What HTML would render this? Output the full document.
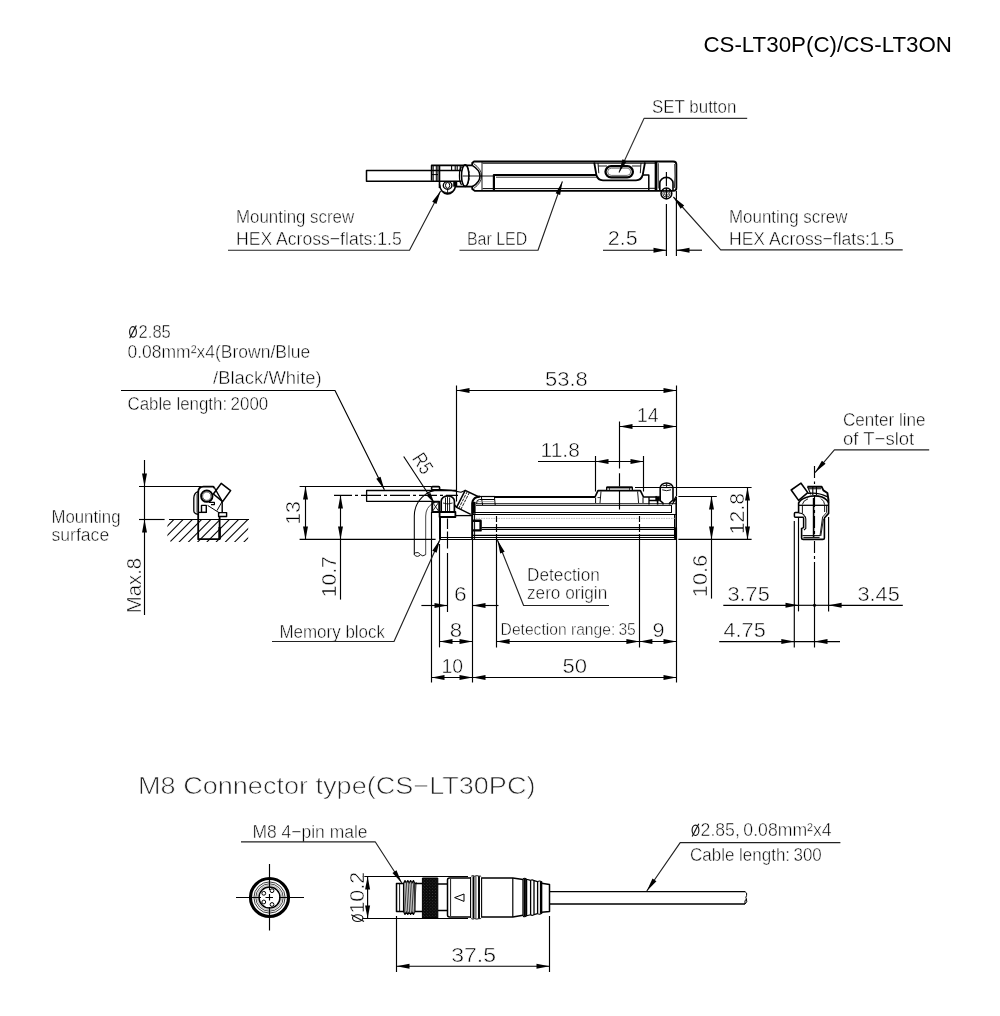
<!DOCTYPE html>
<html><head><meta charset="utf-8"><title>CS-LT30P(C)/CS-LT3ON</title>
<style>
html,body{margin:0;padding:0;background:#fff;}
body{width:1000px;height:1016px;overflow:hidden;font-family:"Liberation Sans",sans-serif;}
svg{display:block;will-change:transform;}
.t{font-family:"Liberation Sans",sans-serif;fill:#000;stroke:#fff;stroke-width:0.5px;paint-order:fill stroke;}
.t2{font-family:"Liberation Sans",sans-serif;fill:#222;stroke:#fff;stroke-width:0.7px;paint-order:fill stroke;}
.ttl{font-family:"Liberation Sans",sans-serif;fill:#000;}
</style></head><body>
<svg width="1000" height="1016" viewBox="0 0 1000 1016" stroke-linecap="butt" stroke-linejoin="round">
<rect x="0" y="0" width="1000" height="1016" fill="#fff" stroke="none"/>
<text class="ttl" x="703.4" y="52.4" font-size="22.5" textLength="248.6" lengthAdjust="spacingAndGlyphs">CS-LT30P(C)/CS-LT3ON</text>
<path d="M461.5,170.4 H366.5 V181.2 H461.5" stroke="#000" stroke-width="1.5" fill="none"/>
<path d="M472.2,165.4 H431.6 V180.8" stroke="#000" stroke-width="1.6" fill="none"/>
<line x1="433.2" y1="165.4" x2="433.2" y2="181" stroke="#000" stroke-width="1"/>
<line x1="436.3" y1="165.4" x2="436.3" y2="181" stroke="#000" stroke-width="1"/>
<line x1="437.9" y1="165.4" x2="437.9" y2="181" stroke="#000" stroke-width="1"/>
<line x1="439.5" y1="165.4" x2="439.5" y2="188" stroke="#000" stroke-width="1.6"/>
<line x1="431.6" y1="174.6" x2="438" y2="174.6" stroke="#000" stroke-width="1"/>
<path d="M451.6,166 V170 M455.2,166 V170 M457.2,166 V170 M460.2,166 V170" stroke="#000" stroke-width="1.1" fill="none"/>
<path d="M439.6,184.5 A8.1,10 0 0 0 455.6,186" stroke="#000" stroke-width="1.6" fill="none"/>
<ellipse cx="447.6" cy="185.4" rx="4.3" ry="3.8" stroke="#000" stroke-width="1.4" fill="none"/>
<ellipse cx="447.6" cy="185.4" rx="2.1" ry="2.9" stroke="#000" stroke-width="1" fill="none"/>
<line x1="447.6" y1="189.5" x2="447.6" y2="194" stroke="#000" stroke-width="0.9"/>
<path d="M443,191.5 Q447.6,194.5 452.5,191.5" stroke="#000" stroke-width="0.8" fill="none"/>
<rect x="453.4" y="181.4" width="3.6" height="5" rx="0" stroke="#000" stroke-width="0.5" fill="#000"/>
<line x1="456" y1="186.6" x2="473" y2="186.6" stroke="#000" stroke-width="1.8"/>
<ellipse cx="465.2" cy="175.6" rx="3.7" ry="10.8" stroke="#000" stroke-width="1.6" fill="none"/>
<path d="M461.6,166.5 A3.4,9.8 0 0 0 461.6,184.8" stroke="#000" stroke-width="1.2" fill="none"/>
<path d="M467.6,167.5 A2.6,8.8 0 0 1 467.6,183.8" stroke="#000" stroke-width="0.9" fill="none" stroke-dasharray="2.4 1.2"/>
<line x1="462.6" y1="176" x2="493" y2="176" stroke="#000" stroke-width="0.9"/>
<path d="M472.2,165.6 V163 L474,161.5 H673.3 Q676.4,161.5 676.4,164.6 V188 Q676.4,190.9 673.3,190.9 H475 L472.2,189 V186.8" stroke="#000" stroke-width="1.8" fill="none"/>
<path d="M472.2,165.4 Q480,170 480,176 Q480,182.4 472.2,186.8" stroke="#000" stroke-width="1.6" fill="none"/>
<path d="M473.5,163.5 Q481.6,169 481.6,176 Q481.6,183 473.5,188.6" stroke="#000" stroke-width="0.8" fill="none"/>
<line x1="482" y1="162" x2="482" y2="190.5" stroke="#000" stroke-width="0.9"/>
<path d="M482.6,163.2 H655 M482.6,188.6 H648" stroke="#000" stroke-width="1" fill="none"/>
<path d="M493.9,190 V175 H596.5" stroke="#000" stroke-width="2.2" fill="none"/>
<line x1="496" y1="177.2" x2="596.5" y2="177.2" stroke="#000" stroke-width="0.8"/>
<path d="M643,175 H648.8 V190.5" stroke="#000" stroke-width="1.5" fill="none"/>
<line x1="656" y1="161.5" x2="656" y2="190.5" stroke="#000" stroke-width="2.7"/>
<line x1="658.3" y1="163.2" x2="658.3" y2="188.5" stroke="#000" stroke-width="0.8"/>
<line x1="648.8" y1="188.3" x2="657" y2="188.3" stroke="#000" stroke-width="1"/>
<path d="M594.2,162.5 L596.3,174.5 Q597.5,180.3 603,180.3 H636 Q641.5,180.3 642.8,174.5 L645,162.5" stroke="#000" stroke-width="1.8" fill="none"/>
<path d="M598,163 L598.8,173.2 M641,163 L640.3,173.2" stroke="#000" stroke-width="0.9" fill="none"/>
<path d="M598.3,166 H607 M632,166 H640.8" stroke="#000" stroke-width="0.9" fill="none"/>
<rect x="605.5" y="166.2" width="27.4" height="11.2" rx="5.6" stroke="#000" stroke-width="2.3" fill="none"/>
<rect x="607.7" y="168.2" width="23" height="7.2" rx="3.6" stroke="#333" stroke-width="0.7" fill="none"/>
<path d="M659.8,191 V183 A6.6,5.6 0 0 1 673,183 V191" stroke="#000" stroke-width="1.6" fill="none"/>
<path d="M674.7,164 Q675.4,176 674.4,188" stroke="#000" stroke-width="0.8" fill="none"/>
<circle cx="666.4" cy="193.5" r="5.4" stroke="#000" stroke-width="1.5" fill="none"/>
<circle cx="666.4" cy="193.5" r="3.6" stroke="#222" stroke-width="0.9" fill="none"/>
<circle cx="666.4" cy="193.5" r="2.0" stroke="#222" stroke-width="0.8" fill="none"/>
<path d="M666.4,172 V186.3 M666.4,188 V199 M666.4,204 V256" stroke="#000" stroke-width="1.15" fill="none"/>
<line x1="676.4" y1="191" x2="676.4" y2="256" stroke="#000" stroke-width="1.15"/>
<text class="t" x="652.0" y="112.8" font-size="18.99" textLength="84.4" lengthAdjust="spacingAndGlyphs" text-anchor="start">SET button</text>
<path d="M747.2,118.4 L644,118.4 L619,172.5" stroke="#333" stroke-width="1.15" fill="none"/>
<polygon points="619.00,172.50 622.48,159.24 626.84,161.25" fill="#000"/>
<text class="t" x="236.0" y="222.6" font-size="18.99" textLength="118.2" lengthAdjust="spacingAndGlyphs" text-anchor="start">Mounting screw</text>
<text class="t" x="236.0" y="244.6" font-size="18.99" textLength="165.7" lengthAdjust="spacingAndGlyphs" text-anchor="start">HEX Across&#8722;flats:1.5</text>
<path d="M228,250.2 L409.5,250.2 L440.6,191" stroke="#222" stroke-width="1.15" fill="none"/>
<polygon points="440.60,191.00 436.45,204.07 432.20,201.84" fill="#000"/>
<text class="t" x="467.0" y="244.6" font-size="18.99" textLength="60.2" lengthAdjust="spacingAndGlyphs" text-anchor="start">Bar LED</text>
<path d="M459.5,250.2 L538,250.2 L562.4,181.4" stroke="#222" stroke-width="1.15" fill="none"/>
<polygon points="562.40,181.40 560.15,194.93 555.63,193.32" fill="#000"/>
<text class="t" x="607.8" y="244.6" font-size="20.26" textLength="29.8" lengthAdjust="spacingAndGlyphs" text-anchor="start">2.5</text>
<line x1="603" y1="250.2" x2="666.5" y2="250.2" stroke="#000" stroke-width="1.15"/>
<polygon points="666.50,250.20 653.50,252.70 653.50,247.70" fill="#000"/>
<line x1="676.5" y1="250.2" x2="702" y2="250.2" stroke="#000" stroke-width="1.15"/>
<polygon points="676.50,250.20 689.50,247.70 689.50,252.70" fill="#000"/>
<text class="t" x="729.0" y="222.6" font-size="18.99" textLength="118.5" lengthAdjust="spacingAndGlyphs" text-anchor="start">Mounting screw</text>
<text class="t" x="729.0" y="244.6" font-size="18.99" textLength="165.2" lengthAdjust="spacingAndGlyphs" text-anchor="start">HEX Across&#8722;flats:1.5</text>
<path d="M902.7,249.8 L720.7,249.8 L673.4,197" stroke="#222" stroke-width="1.15" fill="none"/>
<polygon points="673.40,197.00 684.20,205.45 680.62,208.66" fill="#000"/>
<path d="M456,490.5 H366.6 V501.3 H432" stroke="#000" stroke-width="1.3" fill="none"/>
<path d="M334,495.4 H352 M355,495.4 H358 M361,495.4 H381 M384,495.4 H387 M390,495.4 H410 M413,495.4 H416 M419,495.4 H437 M440,495.4 H443 M446,495.4 H458" stroke="#000" stroke-width="1.15" fill="none"/>
<rect x="431.6" y="486.6" width="8" height="3.2" rx="1" stroke="#000" stroke-width="1.6" fill="none"/>
<path d="M414.3,554.4 V516 A26.2,26.4 0 0 1 440.5,489.6 Q452,489.8 461,492.2 L465,490.4" stroke="#000" stroke-width="1.05" fill="none"/>
<path d="M425.7,554.6 V516 A14.6,14.8 0 0 1 433,503.2" stroke="#333" stroke-width="0.9" fill="none"/>
<path d="M414.3,554.4 Q415,556.4 417.4,556.4 Q419.4,556.2 420.4,554.6 Q422.6,557.2 425.7,554.6 M420.4,554.6 Q418.4,551.4 415.4,552.8 Q414.2,553.4 414.3,554.4" stroke="#000" stroke-width="0.9" fill="none"/>
<rect x="432.2" y="501.8" width="7" height="10.2" rx="0" stroke="#000" stroke-width="1.9" fill="none"/>
<path d="M432,501.6 L439.2,512 M439.2,501.6 L432,512" stroke="#111" stroke-width="0.9" fill="none"/>
<path d="M441.2,512 V501 A6.6,5.2 0 0 1 454.4,501 V512" stroke="#000" stroke-width="1.7" fill="none"/>
<path d="M445.5,497.5 V511 M447.5,496.6 V511 M449.6,497.5 V511" stroke="#000" stroke-width="0.9" fill="none"/>
<path d="M443,503 Q447.6,505 452.6,503" stroke="#000" stroke-width="0.8" fill="none"/>
<rect x="439.6" y="512" width="15.8" height="5" rx="0" stroke="#000" stroke-width="1.8" fill="none"/>
<path d="M440,517 V539.8" stroke="#000" stroke-width="2" fill="none"/>
<path d="M455.4,515.6 H472" stroke="#000" stroke-width="1.3" fill="none"/>
<path d="M479,497 L465.2,490.4 L456.6,507.4 L470.8,514.4 M456.6,507.4 L454.6,505" stroke="#000" stroke-width="1.5" fill="none"/>
<path d="M467.3,491.5 L458.7,508.5 M469.4,492.5 L460.8,509.5" stroke="#000" stroke-width="0.9" fill="none" stroke-dasharray="3 1"/>
<path d="M472.2,539.6 V503.5 Q472.6,498.8 476.5,497.3 L480,496.5" stroke="#000" stroke-width="2.0" fill="none"/>
<rect x="472" y="502" width="3.4" height="11.6" rx="0" stroke="#000" stroke-width="0.4" fill="#000"/>
<path d="M477,496.5 H495" stroke="#000" stroke-width="1.2" fill="none"/>
<path d="M495,497 H595" stroke="#000" stroke-width="2.0" fill="none"/>
<path d="M476.6,503.6 Q476.4,499.6 479.4,499.5 H494.5" stroke="#000" stroke-width="1.0" fill="none"/>
<path d="M474.6,514 V539" stroke="#000" stroke-width="1.0" fill="none"/>
<path d="M481.3,496.4 L482.6,505 M494.4,496.4 L495.2,505" stroke="#000" stroke-width="1.0" fill="none"/>
<line x1="478" y1="501.6" x2="494.6" y2="501.6" stroke="#888" stroke-width="0.7"/>
<path d="M595,497 L598,490.6 H640.4 L643.5,497 H657" stroke="#000" stroke-width="1.7" fill="none"/>
<path d="M595.6,497.4 V503 M643,497.4 V503" stroke="#000" stroke-width="1" fill="none"/>
<path d="M601,491.5 L600,503 M637.6,491.5 L638.6,503" stroke="#000" stroke-width="0.9" fill="none"/>
<path d="M597.5,497.6 H600.4" stroke="#000" stroke-width="0.8" fill="none"/>
<path d="M606.6,490.6 V487.4 H632.4 V490.6" stroke="#000" stroke-width="1.2" fill="none"/>
<line x1="606.6" y1="487.4" x2="632.4" y2="487.4" stroke="#000" stroke-width="2"/>
<path d="M609.5,487.4 V490.6 M629.5,487.4 V490.6" stroke="#000" stroke-width="0.7" fill="none"/>
<path d="M649,497 V504.5 M649,500.5 H657" stroke="#000" stroke-width="1.3" fill="none"/>
<rect x="655.6" y="496.4" width="4.2" height="4.4" rx="0" stroke="#000" stroke-width="0.5" fill="#000"/>
<path d="M657.6,497 V504.5" stroke="#000" stroke-width="1.6" fill="none"/>
<path d="M663,504.6 V503 L660.2,500.6 V488 A6.4,5 0 0 1 673,488 V500 L669.6,503 V504.6" stroke="#000" stroke-width="1.6" fill="none"/>
<path d="M661,487.6 H672.2 M662.2,489.8 Q666.6,491.6 671,489.8 M666.6,483.4 V487.6 M662.6,485.8 Q666.6,484.6 670.6,485.8" stroke="#000" stroke-width="0.9" fill="none"/>
<path d="M673,501.6 L676,496.6 M672,504.4 L676,499" stroke="#000" stroke-width="1.2" fill="none"/>
<path d="M676.2,496.4 V539" stroke="#000" stroke-width="1.6" fill="none"/>
<path d="M671.5,505.4 V512.5 M674.5,514.5 V538.5" stroke="#000" stroke-width="1" fill="none"/>
<rect x="674.4" y="527.5" width="2.4" height="12" rx="0" stroke="#000" stroke-width="0.3" fill="#000"/>
<line x1="476" y1="503.7" x2="676" y2="503.7" stroke="#000" stroke-width="0.9"/>
<line x1="476" y1="505.4" x2="672" y2="505.4" stroke="#000" stroke-width="0.95"/>
<line x1="473" y1="512.5" x2="672" y2="512.5" stroke="#000" stroke-width="1.2"/>
<line x1="473" y1="514.5" x2="676" y2="514.5" stroke="#000" stroke-width="1.0"/>
<line x1="481.5" y1="527.5" x2="675" y2="527.5" stroke="#000" stroke-width="1.1"/>
<line x1="481.5" y1="529.4" x2="675" y2="529.4" stroke="#000" stroke-width="1.1"/>
<line x1="473" y1="535.4" x2="675" y2="535.4" stroke="#000" stroke-width="1.2"/>
<line x1="440" y1="537.5" x2="675" y2="537.5" stroke="#000" stroke-width="1.0"/>
<line x1="440" y1="539.5" x2="676.5" y2="539.5" stroke="#000" stroke-width="1.15"/>
<line x1="476" y1="518.4" x2="675" y2="518.4" stroke="#aaa" stroke-width="0.8" stroke-dasharray="1.5 1"/>
<path d="M472.6,520.8 H480.6 V530.4 H472.6" stroke="#000" stroke-width="2.4" fill="none"/>
<path d="M619.5,473.2 V486.6 M619.5,490 V509.4" stroke="#000" stroke-width="1.15" fill="none"/>
<line x1="456.5" y1="385.5" x2="456.5" y2="501.5" stroke="#000" stroke-width="1.15"/>
<line x1="676.5" y1="385.5" x2="676.5" y2="496" stroke="#000" stroke-width="1.15"/>
<line x1="456.5" y1="390.5" x2="676.5" y2="390.5" stroke="#000" stroke-width="1.15"/>
<polygon points="456.50,390.50 469.50,388.00 469.50,393.00" fill="#000"/>
<polygon points="676.50,390.50 663.50,393.00 663.50,388.00" fill="#000"/>
<text class="t" x="545.0" y="385.6" font-size="20.26" textLength="42.8" lengthAdjust="spacingAndGlyphs" text-anchor="start">53.8</text>
<line x1="619.5" y1="421.5" x2="619.5" y2="468.5" stroke="#000" stroke-width="1.15"/>
<line x1="619.5" y1="426.5" x2="676.5" y2="426.5" stroke="#000" stroke-width="1.15"/>
<polygon points="619.50,426.50 632.50,424.00 632.50,429.00" fill="#000"/>
<polygon points="676.50,426.50 663.50,429.00 663.50,424.00" fill="#000"/>
<text class="t" x="637.0" y="421.6" font-size="20.26" textLength="21.6" lengthAdjust="spacingAndGlyphs" text-anchor="start">14</text>
<line x1="595.5" y1="456" x2="595.5" y2="491.5" stroke="#000" stroke-width="1.15"/>
<line x1="643.5" y1="456" x2="643.5" y2="491.5" stroke="#000" stroke-width="1.15"/>
<line x1="538" y1="461.5" x2="643.5" y2="461.5" stroke="#000" stroke-width="1.15"/>
<polygon points="595.50,461.50 608.50,459.00 608.50,464.00" fill="#000"/>
<polygon points="643.50,461.50 630.50,464.00 630.50,459.00" fill="#000"/>
<text class="t" x="540.6" y="456.8" font-size="20.26" textLength="39.2" lengthAdjust="spacingAndGlyphs" text-anchor="start">11.8</text>
<line x1="299.6" y1="486.5" x2="431.6" y2="486.5" stroke="#000" stroke-width="1.15"/>
<line x1="299.6" y1="539.4" x2="435.6" y2="539.4" stroke="#000" stroke-width="1.15"/>
<line x1="305.5" y1="486.5" x2="305.5" y2="539.4" stroke="#000" stroke-width="1.15"/>
<polygon points="305.50,486.50 308.00,499.50 303.00,499.50" fill="#000"/>
<polygon points="305.50,539.40 303.00,526.40 308.00,526.40" fill="#000"/>
<text class="t" x="300.2" y="524.8" font-size="20.26" textLength="23.8" lengthAdjust="spacingAndGlyphs" transform="rotate(-90 300.2 524.8)">13</text>
<line x1="340.5" y1="495.4" x2="340.5" y2="599.6" stroke="#000" stroke-width="1.15"/>
<polygon points="340.50,495.40 343.00,508.40 338.00,508.40" fill="#000"/>
<polygon points="340.50,539.40 338.00,526.40 343.00,526.40" fill="#000"/>
<text class="t" x="335.6" y="597.2" font-size="20.26" textLength="41.0" lengthAdjust="spacingAndGlyphs" transform="rotate(-90 335.6 597.2)">10.7</text>
<line x1="635" y1="487.5" x2="751.6" y2="487.5" stroke="#000" stroke-width="1.15"/>
<line x1="678.4" y1="496.5" x2="716.8" y2="496.5" stroke="#000" stroke-width="1.15"/>
<line x1="678.4" y1="539.4" x2="751.6" y2="539.4" stroke="#000" stroke-width="1.15"/>
<line x1="747.5" y1="487.5" x2="747.5" y2="539.4" stroke="#000" stroke-width="1.15"/>
<polygon points="747.50,487.50 750.00,500.50 745.00,500.50" fill="#000"/>
<polygon points="747.50,539.40 745.00,526.40 750.00,526.40" fill="#000"/>
<text class="t" x="743.8" y="534.2" font-size="20.26" textLength="41.2" lengthAdjust="spacingAndGlyphs" transform="rotate(-90 743.8 534.2)">12.8</text>
<line x1="711.5" y1="496.5" x2="711.5" y2="598.6" stroke="#000" stroke-width="1.15"/>
<polygon points="711.50,496.50 714.00,509.50 709.00,509.50" fill="#000"/>
<polygon points="711.50,539.40 709.00,526.40 714.00,526.40" fill="#000"/>
<text class="t" x="707.0" y="597.2" font-size="20.26" textLength="42.4" lengthAdjust="spacingAndGlyphs" transform="rotate(-90 707.0 597.2)">10.6</text>
<path d="M403.7,456.5 L434.4,503.2" stroke="#000" stroke-width="1.15" fill="none"/>
<polygon points="434.40,503.20 426.35,495.33 430.36,492.69" fill="#000"/>
<text class="t" x="411.4" y="458.5" font-size="20.26" textLength="20.5" lengthAdjust="spacingAndGlyphs" transform="rotate(56.8 411.4 458.5)" text-anchor="start">R5</text>
<g stroke="#111" stroke-width="1.15" fill="none"><ellipse cx="133.0" cy="331.90000000000003" rx="3.4" ry="5.2"/><line x1="129.7" y1="338.20000000000005" x2="136.3" y2="325.40000000000003"/></g>
<text class="t" x="138.6" y="337.6" font-size="18.99" textLength="32.2" lengthAdjust="spacingAndGlyphs" text-anchor="start">2.85</text>
<text class="t" x="127.5" y="358" font-size="18.99" textLength="182.8" lengthAdjust="spacingAndGlyphs" text-anchor="start">0.08mm&#178;x4(Brown/Blue</text>
<text class="t" x="213.0" y="383.6" font-size="18.99" textLength="108.7" lengthAdjust="spacingAndGlyphs" text-anchor="start">/Black/White)</text>
<text class="t" x="127.5" y="410" font-size="18.99" textLength="140.7" lengthAdjust="spacingAndGlyphs" text-anchor="start">Cable length:&#8201;2000</text>
<path d="M121,390.5 L335,390.5 L384.4,489.8" stroke="#000" stroke-width="1.15" fill="none"/>
<polygon points="384.40,489.80 376.24,478.78 380.54,476.64" fill="#000"/>
<line x1="431.5" y1="512" x2="431.5" y2="682.5" stroke="#000" stroke-width="1.15"/>
<line x1="439.5" y1="544" x2="439.5" y2="647.4" stroke="#000" stroke-width="1.15"/>
<path d="M447.5,518.5 V529 M447.5,531.5 V548.6 M447.5,553 V612" stroke="#000" stroke-width="1.15" fill="none"/>
<line x1="472.5" y1="539" x2="472.5" y2="682.5" stroke="#000" stroke-width="1.15"/>
<path d="M496.5,516 V522 M496.5,524 V532 M496.5,534 V647.4" stroke="#000" stroke-width="1.15" fill="none"/>
<path d="M639.5,516 V522 M639.5,524 V532 M639.5,534 V647.4" stroke="#000" stroke-width="1.15" fill="none"/>
<line x1="676.5" y1="539" x2="676.5" y2="682.5" stroke="#000" stroke-width="1.15"/>
<line x1="421.4" y1="605.5" x2="447.5" y2="605.5" stroke="#000" stroke-width="1.15"/>
<polygon points="447.50,605.50 434.50,608.00 434.50,603.00" fill="#000"/>
<line x1="472.5" y1="605.5" x2="498.5" y2="605.5" stroke="#000" stroke-width="1.15"/>
<polygon points="472.50,605.50 485.50,603.00 485.50,608.00" fill="#000"/>
<text class="t" x="454.0" y="601" font-size="20.26" textLength="12.7" lengthAdjust="spacingAndGlyphs" text-anchor="start">6</text>
<line x1="439.5" y1="641.5" x2="472.5" y2="641.5" stroke="#000" stroke-width="1.15"/>
<polygon points="439.50,641.50 452.50,639.00 452.50,644.00" fill="#000"/>
<polygon points="472.50,641.50 459.50,644.00 459.50,639.00" fill="#000"/>
<text class="t" x="449.8" y="637.2" font-size="20.26" textLength="12.4" lengthAdjust="spacingAndGlyphs" text-anchor="start">8</text>
<line x1="431.5" y1="677.5" x2="472.5" y2="677.5" stroke="#000" stroke-width="1.15"/>
<polygon points="431.50,677.50 444.50,675.00 444.50,680.00" fill="#000"/>
<polygon points="472.50,677.50 459.50,680.00 459.50,675.00" fill="#000"/>
<text class="t" x="441.4" y="672.6" font-size="20.26" textLength="21.6" lengthAdjust="spacingAndGlyphs" text-anchor="start">10</text>
<line x1="496.6" y1="641.5" x2="639.4" y2="641.5" stroke="#000" stroke-width="1.15"/>
<polygon points="496.60,641.50 509.60,639.00 509.60,644.00" fill="#000"/>
<polygon points="639.40,641.50 626.40,644.00 626.40,639.00" fill="#000"/>
<line x1="639.4" y1="641.5" x2="676.5" y2="641.5" stroke="#000" stroke-width="1.15"/>
<polygon points="639.40,641.50 652.40,639.00 652.40,644.00" fill="#000"/>
<polygon points="676.50,641.50 663.50,644.00 663.50,639.00" fill="#000"/>
<text class="t" x="500.6" y="634.6" font-size="16.25" textLength="135.2" lengthAdjust="spacingAndGlyphs" text-anchor="start">Detection range:&#8201;35</text>
<text class="t" x="652.4" y="636.6" font-size="20.26" textLength="12.0" lengthAdjust="spacingAndGlyphs" text-anchor="start">9</text>
<line x1="472.5" y1="677.5" x2="676.5" y2="677.5" stroke="#000" stroke-width="1.15"/>
<polygon points="472.50,677.50 485.50,675.00 485.50,680.00" fill="#000"/>
<polygon points="676.50,677.50 663.50,680.00 663.50,675.00" fill="#000"/>
<text class="t" x="562.4" y="672.6" font-size="20.26" textLength="24.6" lengthAdjust="spacingAndGlyphs" text-anchor="start">50</text>
<text class="t" x="527.0" y="581.4" font-size="18.99" textLength="72.8" lengthAdjust="spacingAndGlyphs" text-anchor="start">Detection</text>
<text class="t" x="527.0" y="599.4" font-size="18.99" textLength="80.2" lengthAdjust="spacingAndGlyphs" text-anchor="start">zero origin</text>
<path d="M609,605.5 L523.6,605.5 L497.4,540" stroke="#222" stroke-width="1.15" fill="none"/>
<polygon points="497.40,540.00 504.64,551.64 500.19,553.43" fill="#000"/>
<text class="t" x="279.4" y="638.2" font-size="18.99" textLength="105.6" lengthAdjust="spacingAndGlyphs" text-anchor="start">Memory block</text>
<path d="M272,641.5 L394,641.5 L440,539.4" stroke="#222" stroke-width="1.15" fill="none"/>
<polygon points="440.00,539.40 436.64,552.69 432.27,550.72" fill="#000"/>
<line x1="144.5" y1="460" x2="144.5" y2="615" stroke="#000" stroke-width="1.15"/>
<polygon points="144.50,486.40 142.00,473.40 147.00,473.40" fill="#000"/>
<polygon points="144.50,519.50 147.00,532.50 142.00,532.50" fill="#000"/>
<line x1="139" y1="486.5" x2="201.5" y2="486.5" stroke="#000" stroke-width="1.15"/>
<line x1="139" y1="519.5" x2="164.6" y2="519.5" stroke="#000" stroke-width="1.15"/>
<line x1="169" y1="519.5" x2="249" y2="519.5" stroke="#000" stroke-width="1.15"/>
<clipPath id="hc"><polygon points="167.4,519.4 248.2,519.4 248.2,542 171,542 167.4,538.4"/></clipPath>
<g clip-path="url(#hc)">
<line x1="174.0" y1="519.4" x2="150.0" y2="543.4" stroke="#000" stroke-width="1.05"/>
<line x1="183.25" y1="519.4" x2="159.25" y2="543.4" stroke="#000" stroke-width="1.05"/>
<line x1="192.5" y1="519.4" x2="168.5" y2="543.4" stroke="#000" stroke-width="1.05"/>
<line x1="201.75" y1="519.4" x2="177.75" y2="543.4" stroke="#000" stroke-width="1.05"/>
<line x1="211.0" y1="519.4" x2="187.0" y2="543.4" stroke="#000" stroke-width="1.05"/>
<line x1="220.25" y1="519.4" x2="196.25" y2="543.4" stroke="#000" stroke-width="1.05"/>
<line x1="229.5" y1="519.4" x2="205.5" y2="543.4" stroke="#000" stroke-width="1.05"/>
<line x1="238.75" y1="519.4" x2="214.75" y2="543.4" stroke="#000" stroke-width="1.05"/>
<line x1="248.0" y1="519.4" x2="224.0" y2="543.4" stroke="#000" stroke-width="1.05"/>
<line x1="257.25" y1="519.4" x2="233.25" y2="543.4" stroke="#000" stroke-width="1.05"/>
<line x1="266.5" y1="519.4" x2="242.5" y2="543.4" stroke="#000" stroke-width="1.05"/>
<line x1="275.75" y1="519.4" x2="251.75" y2="543.4" stroke="#000" stroke-width="1.05"/>
</g>
<path d="M198.2,492 V539.2 H219.6 V516.6" stroke="#000" stroke-width="1.8" fill="none"/>
<path d="M198.2,492 Q198.4,486.6 203.5,486.6 H213.2 L214.6,488" stroke="#000" stroke-width="1.8" fill="none"/>
<path d="M219.6,527 V539" stroke="#000" stroke-width="2.4" fill="none"/>
<path d="M198,491.6 Q194,493 193.8,498 V511 Q194,513.6 198,514.4" stroke="#000" stroke-width="1.3" fill="none"/>
<path d="M196.4,494 V512.6" stroke="#444" stroke-width="0.6" fill="none"/>
<circle cx="206.8" cy="496.2" r="5.7" stroke="#000" stroke-width="1.9" fill="none"/>
<circle cx="206.8" cy="496.2" r="4.2" stroke="#333" stroke-width="0.8" fill="none"/>
<path d="M201.5,512.4 V505.4 H206.3 V512.4 Z" stroke="#000" stroke-width="1.4" fill="none"/>
<path d="M206.3,512.4 H198.2" stroke="#000" stroke-width="1.3" fill="none"/>
<path d="M209,502.4 H214.4 V504.6 H211" stroke="#000" stroke-width="1.2" fill="none"/>
<path d="M207.6,505.4 L219.6,513" stroke="#000" stroke-width="1.0" fill="none"/>
<path d="M214.6,488 L222.2,501.4 V512.6" stroke="#000" stroke-width="1.4" fill="none"/>
<path d="M222.2,501.4 L217,510.6" stroke="#000" stroke-width="1.0" fill="none"/>
<path d="M221.2,483.4 L230.6,490.6 L222.6,501.6 L213.4,494 Z" stroke="#000" stroke-width="1.6" fill="none"/>
<rect x="218.6" y="512.6" width="8" height="3.9" rx="0" stroke="#000" stroke-width="1.4" fill="none"/>
<text class="t" x="51.5" y="522.8" font-size="18.99" textLength="69.0" lengthAdjust="spacingAndGlyphs" text-anchor="start">Mounting</text>
<text class="t" x="51.5" y="541" font-size="18.99" textLength="57.7" lengthAdjust="spacingAndGlyphs" text-anchor="start">surface</text>
<text class="t" x="140.8" y="613.2" font-size="20.26" textLength="55.4" lengthAdjust="spacingAndGlyphs" transform="rotate(-90 140.8 613.2)">Max.8</text>
<path d="M814.5,466 V478 M814.5,481.5 V484 M814.5,495 V507 M814.5,510 V513 M814.5,516 V528 M814.5,531 V534 M814.5,541 V553 M814.5,556 V559 M814.5,562 V647.5" stroke="#000" stroke-width="1.15" fill="none"/>
<line x1="794.3" y1="521" x2="794.3" y2="647.5" stroke="#000" stroke-width="1.15"/>
<line x1="798.5" y1="517" x2="798.5" y2="611.4" stroke="#000" stroke-width="1.15"/>
<line x1="828.6" y1="517" x2="828.6" y2="611.4" stroke="#000" stroke-width="1.15"/>
<path d="M791.2,490 L801,483.2 L807.8,492.6 L798.6,500.4 Z" stroke="#000" stroke-width="1.6" fill="none"/>
<path d="M807.4,486.7 H821.6 L823.4,490.4 L827.4,493 L828.6,501" stroke="#000" stroke-width="1.9" fill="none"/>
<path d="M808.6,488.8 H821 M807.6,486.7 L810.8,494.4 M812.8,487 V495 M816.4,487 V495" stroke="#000" stroke-width="1.1" fill="none"/>
<path d="M808,493.4 Q818,492 827,496.6" stroke="#000" stroke-width="1.2" fill="none"/>
<path d="M798.6,503 Q800,499.6 806,497.4 Q814,494.6 822,497 Q827.4,499.4 828.6,503" stroke="#000" stroke-width="1.6" fill="none"/>
<path d="M802.4,504.4 Q803,500.6 808,498.8 M824.6,504.6 Q824.4,501 821,498.6" stroke="#000" stroke-width="0.9" fill="none"/>
<line x1="798.6" y1="505.3" x2="828.6" y2="505.3" stroke="#000" stroke-width="1.3"/>
<path d="M798.6,502.4 V513" stroke="#000" stroke-width="1.6" fill="none"/>
<path d="M828.6,501 V513.4 L824.4,518 V538 Q824.4,539.4 822.8,539.4 H803.2 Q801.6,539.4 801.6,538 V528" stroke="#000" stroke-width="1.6" fill="none"/>
<path d="M826.6,505.4 V512.6 L822.6,517 L820,535.6 M823.4,519 L820.8,536" stroke="#000" stroke-width="0.9" fill="none"/>
<path d="M802.4,505.4 V513.4 M824.6,505.4 V512" stroke="#000" stroke-width="0.9" fill="none"/>
<path d="M798.6,512.4 H795.4 Q794.4,512.4 794.4,513.4 V516.2 Q794.4,517.2 795.4,517.2 H803.6" stroke="#000" stroke-width="1.5" fill="none"/>
<path d="M798.6,513 Q803.6,513.4 804.4,516 Q805.8,516.6 805.8,519 V528.4 L804,530" stroke="#000" stroke-width="1.1" fill="none"/>
<path d="M803.6,517.2 V527.6 L801.6,528.4" stroke="#000" stroke-width="1.5" fill="none"/>
<path d="M802.4,535.6 H820.2 M803.4,537.4 H819.6" stroke="#000" stroke-width="1.0" fill="none"/>
<path d="M813.6,498 V537" stroke="#000" stroke-width="1.6" fill="none"/>
<text class="t" x="843.0" y="426.2" font-size="18.99" textLength="82.6" lengthAdjust="spacingAndGlyphs" text-anchor="start">Center line</text>
<text class="t" x="843.0" y="445.2" font-size="18.99" textLength="71.2" lengthAdjust="spacingAndGlyphs" text-anchor="start">of T&#8722;slot</text>
<path d="M929.2,449.8 L834.4,449.8 L815,472.6" stroke="#222" stroke-width="1.15" fill="none"/>
<polygon points="815.00,472.60 821.92,460.76 825.58,463.87" fill="#000"/>
<line x1="723.3" y1="605.3" x2="798.5" y2="605.3" stroke="#000" stroke-width="1.15"/>
<polygon points="798.50,605.30 785.50,607.80 785.50,602.80" fill="#000"/>
<line x1="798.5" y1="605.3" x2="828.6" y2="605.3" stroke="#000" stroke-width="1.15"/>
<circle cx="814.5" cy="605.3" r="1.5" stroke="#000" stroke-width="0.1" fill="#000"/>
<line x1="828.6" y1="605.3" x2="902.8" y2="605.3" stroke="#000" stroke-width="1.15"/>
<polygon points="828.60,605.30 841.60,602.80 841.60,607.80" fill="#000"/>
<text class="t" x="727.4" y="601" font-size="20.26" textLength="42.4" lengthAdjust="spacingAndGlyphs" text-anchor="start">3.75</text>
<text class="t" x="857.4" y="601" font-size="20.26" textLength="42.4" lengthAdjust="spacingAndGlyphs" text-anchor="start">3.45</text>
<line x1="719.2" y1="641.6" x2="794.3" y2="641.6" stroke="#000" stroke-width="1.15"/>
<polygon points="794.30,641.60 781.30,644.10 781.30,639.10" fill="#000"/>
<line x1="794.3" y1="641.6" x2="840" y2="641.6" stroke="#000" stroke-width="1.15"/>
<polygon points="814.50,641.60 827.50,639.10 827.50,644.10" fill="#000"/>
<text class="t" x="723.5" y="636.8" font-size="20.26" textLength="42.2" lengthAdjust="spacingAndGlyphs" text-anchor="start">4.75</text>
<text class="t2" x="138" y="794.4" font-size="24.2" textLength="397.5" lengthAdjust="spacingAndGlyphs">M8 Connector type(CS&#8722;LT30PC)</text>
<text class="t" x="252.4" y="838.4" font-size="18.99" textLength="115.2" lengthAdjust="spacingAndGlyphs" text-anchor="start">M8 4&#8722;pin male</text>
<path d="M241,841.8 L375.2,841.8 L401.8,883" stroke="#222" stroke-width="1.15" fill="none"/>
<polygon points="401.80,883.00 392.46,872.96 396.49,870.36" fill="#000"/>
<circle cx="269.5" cy="897.5" r="19" stroke="#000" stroke-width="3.2" fill="none"/>
<circle cx="269.5" cy="897.5" r="15.6" stroke="#222" stroke-width="0.9" fill="none"/>
<circle cx="269.5" cy="897.5" r="13.7" stroke="#333" stroke-width="0.9" fill="none"/>
<circle cx="269.5" cy="897.5" r="12.3" stroke="#999" stroke-width="0.7" fill="none"/>
<circle cx="269.5" cy="897.5" r="10.5" stroke="#000" stroke-width="1.5" fill="none"/>
<circle cx="263.8" cy="893.3" r="1.9" stroke="#000" stroke-width="1.0" fill="none"/>
<circle cx="272" cy="890.7" r="1.9" stroke="#000" stroke-width="1.0" fill="none"/>
<circle cx="263.8" cy="902" r="1.9" stroke="#000" stroke-width="1.0" fill="none"/>
<circle cx="272" cy="904.5" r="1.9" stroke="#000" stroke-width="1.0" fill="none"/>
<path d="M236,897.5 H261 M265.5,897.5 H273 M279,897.5 H304 M269.5,864 V890 M269.5,894 V900.5 M269.5,907 V930.5" stroke="#000" stroke-width="1.15" fill="none"/>
<line x1="362.4" y1="876.5" x2="468" y2="876.5" stroke="#000" stroke-width="1.15"/>
<line x1="362.4" y1="918.5" x2="468" y2="918.5" stroke="#000" stroke-width="1.15"/>
<line x1="367.6" y1="876.5" x2="367.6" y2="918.5" stroke="#000" stroke-width="1.15"/>
<polygon points="367.60,876.50 370.10,889.50 365.10,889.50" fill="#000"/>
<polygon points="367.60,918.50 365.10,905.50 370.10,905.50" fill="#000"/>
<g transform="rotate(-90 363.4 922.6)" stroke="#111" stroke-width="1.15" fill="none"><ellipse cx="367.9" cy="916.9" rx="3.4" ry="5.2"/><line x1="364.59999999999997" y1="923.2" x2="371.2" y2="910.4"/></g>
<text class="t" x="364.2" y="913.6" font-size="20.04" textLength="41.8" lengthAdjust="spacingAndGlyphs" transform="rotate(-90 364.2 913.6)">10.2</text>
<path d="M403.5,883.5 H396.5 V911.6 H403.5" stroke="#000" stroke-width="1.5" fill="none"/>
<line x1="399.6" y1="883.5" x2="399.6" y2="911.6" stroke="#000" stroke-width="0.9"/>
<path d="M403.6,883.5 L405,880.6 L406.4,883 L407.8,880.6 L409.2,883 L410.6,880.6 L412,883 L413.4,880.6 L414.9,883.5 V911.5 L413.4,914.4 L412,912 L410.6,914.4 L409.2,912 L407.8,914.4 L406.4,912 L405,914.4 L403.6,911.5 Z" fill="#bdbdbd" stroke="#000" stroke-width="1.3"/>
<line x1="404.6" y1="913" x2="406.6" y2="882" stroke="#3a3a3a" stroke-width="1.0"/>
<line x1="407.0" y1="913" x2="409.0" y2="882" stroke="#3a3a3a" stroke-width="1.0"/>
<line x1="409.40000000000003" y1="913" x2="411.40000000000003" y2="882" stroke="#3a3a3a" stroke-width="1.0"/>
<line x1="411.8" y1="913" x2="413.8" y2="882" stroke="#3a3a3a" stroke-width="1.0"/>
<line x1="414.20000000000005" y1="913" x2="416.20000000000005" y2="882" stroke="#3a3a3a" stroke-width="1.0"/>
<path d="M415,883.5 H422.4 M415,911.5 H422.4" stroke="#000" stroke-width="1.5" fill="none"/>
<pattern id="kn" width="2.2" height="2.2" patternUnits="userSpaceOnUse" patternTransform="rotate(45)"><rect width="2.2" height="2.2" fill="#0c0c0c"/><rect width="0.5" height="0.5" fill="#7a7a7a"/></pattern>
<rect x="422.4" y="878" width="15.4" height="40" fill="url(#kn)" stroke="#000" stroke-width="1"/>
<path d="M437.8,884 H447.5 M437.8,910.6 H447.5" stroke="#000" stroke-width="1.5" fill="none"/>
<path d="M470.6,878 H449.5 Q447.5,878 447.5,880 V915 Q447.5,917 449.5,917 H470.6" stroke="#000" stroke-width="1.5" fill="none"/>
<line x1="450.6" y1="879" x2="450.6" y2="916" stroke="#000" stroke-width="0.9"/>
<path d="M454.6,897.6 L464,894 V901.4 Z" stroke="#000" stroke-width="1.0" fill="none"/>
<path d="M470.6,877 V918" stroke="#000" stroke-width="1.1" fill="none"/>
<path d="M473.5,876.2 V918.6 M479,876.2 V918.6" stroke="#000" stroke-width="1.9" fill="none"/>
<path d="M475.9,876.2 V918.6" stroke="#000" stroke-width="0.8" fill="none"/>
<path d="M481.6,877.4 V917.6" stroke="#000" stroke-width="1.1" fill="none"/>
<path d="M471.2,876.2 Q473,875 474.6,876.2 Q476.8,875 479,876.2 Q480.4,875.4 481.4,877 M471.2,918.6 Q473,919.6 474.6,918.6 Q476.8,919.6 479,918.6 Q480.4,919.2 481.4,917.8" stroke="#000" stroke-width="0.9" fill="none"/>
<path d="M481.6,878 H512.8 L523,879.6 M481.6,917 H512.8 L523,915.2" stroke="#000" stroke-width="1.5" fill="none"/>
<line x1="512.8" y1="878" x2="512.8" y2="917" stroke="#000" stroke-width="1.2"/>
<path d="M523,879 V916 M526.6,879 V916 M530.6,880.4 V914.8 M534,880.4 V914.8 M537.6,881.4 V913.8 M541.6,881.4 V913.8" stroke="#000" stroke-width="1.3" fill="none"/>
<path d="M524.8,878.6 V916.4 M541,881.4 V913.8" stroke="#000" stroke-width="2.2" fill="none"/>
<path d="M523,878.8 Q524.8,877.6 526.6,879.2 L530.6,880.4 Q532.2,879.2 534,880.6 L537.6,881.6 Q539.6,880.2 541.6,881.8 M523,916.2 Q524.8,917.4 526.6,915.8 L530.6,914.8 Q532.2,916 534,914.6 L537.6,913.6 Q539.6,915 541.6,913.4" stroke="#000" stroke-width="1.1" fill="none"/>
<path d="M541.6,883.2 L549.5,884.4 V911.4 L541.6,912.2" stroke="#000" stroke-width="1.5" fill="none"/>
<path d="M549.5,891.6 H745 M549.5,904 H745" stroke="#000" stroke-width="1.4" fill="none"/>
<path d="M745,891.6 Q747.4,892.6 746.6,895.4 Q745.2,897.6 746.4,899 Q747.8,902 745,904 M746.4,899 Q744.2,900.4 745,904" stroke="#000" stroke-width="1.0" fill="none"/>
<line x1="396.5" y1="916" x2="396.5" y2="972" stroke="#000" stroke-width="1.15"/>
<line x1="549.5" y1="916" x2="549.5" y2="972" stroke="#000" stroke-width="1.15"/>
<line x1="396.5" y1="966.2" x2="549.5" y2="966.2" stroke="#000" stroke-width="1.15"/>
<polygon points="396.50,966.20 409.50,963.70 409.50,968.70" fill="#000"/>
<polygon points="549.50,966.20 536.50,968.70 536.50,963.70" fill="#000"/>
<text class="t" x="451.2" y="961.6" font-size="20.26" textLength="44.8" lengthAdjust="spacingAndGlyphs" text-anchor="start">37.5</text>
<g stroke="#111" stroke-width="1.15" fill="none"><ellipse cx="695.5" cy="830.3" rx="3.4" ry="5.2"/><line x1="692.2" y1="836.6" x2="698.8" y2="823.8"/></g>
<text class="t" x="700.6" y="836" font-size="18.57" textLength="131.0" lengthAdjust="spacingAndGlyphs" text-anchor="start">2.85,&#8201;0.08mm&#178;x4</text>
<text class="t" x="690.0" y="861.2" font-size="18.57" textLength="131.8" lengthAdjust="spacingAndGlyphs" text-anchor="start">Cable length:&#8201;300</text>
<path d="M840.4,842.6 L680.2,842.6 L646.8,891" stroke="#222" stroke-width="1.15" fill="none"/>
<polygon points="646.80,891.00 652.49,878.53 656.44,881.25" fill="#000"/>
</svg>
</body></html>
